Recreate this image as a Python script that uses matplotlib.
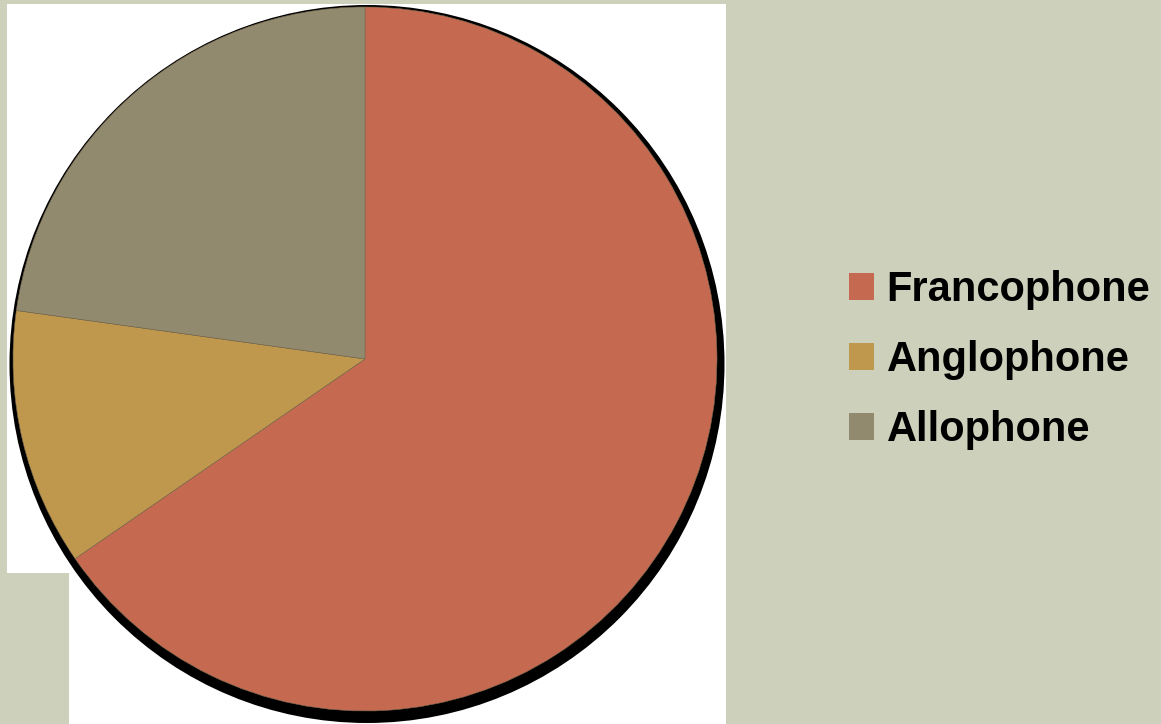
import matplotlib.pyplot as plt
from matplotlib.patches import Rectangle, Ellipse

labels = ["Francophone", "Anglophone", "Allophone"]
shares = [65.4, 11.8, 22.8]
colors = ["#C56A50", "#BF984E", "#918A6E"]

W, H = 1161, 724
fig = plt.figure(figsize=(W / 100, H / 100), dpi=100)
fig.patch.set_facecolor("#CDD1BB")

# white backing behind the pie
fig.patches.append(Rectangle((7 / W, (H - 573) / H), (726 - 7) / W, 569 / H,
                             transform=fig.transFigure, facecolor="white", edgecolor="none", zorder=-5))
fig.patches.append(Rectangle((69 / W, 0), (726 - 69) / W, (H - 4) / H,
                             transform=fig.transFigure, facecolor="white", edgecolor="none", zorder=-5))

# pie axes: centre (365, 359), radius 352 px
cx, cy, r = 365, 359, 352
ax = fig.add_axes([(cx - r) / W, (H - cy - r) / H, 2 * r / W, 2 * r / H])
ax.set_zorder(1)
ax.patch.set_visible(False)
ax.axis("off")

# black drop shadow, heavier towards the bottom
ax.add_patch(Ellipse((2 / r, -5 / r), 2 * 357.5 / r, 2 * 359 / r,
                     facecolor="black", edgecolor="none", zorder=0, clip_on=False))
wedges, _ = ax.pie(shares, colors=colors, startangle=90, counterclock=False, radius=1,
                   wedgeprops=dict(edgecolor="#7a6a50", linewidth=0.4))
for w in wedges:
    w.set_zorder(1)
ax.set_xlim(-1, 1)
ax.set_ylim(-1, 1)

leg = fig.legend(wedges, labels, loc="center left",
                 bbox_to_anchor=(849 / W, (H - 360) / H),
                 frameon=False, borderpad=0, borderaxespad=0,
                 prop=dict(family=["Liberation Sans", "DejaVu Sans"], weight="bold", size=30),
                 handlelength=0.6, handleheight=0.6, handletextpad=0.3, labelspacing=0.72)
for h in leg.legend_handles:
    h.set_edgecolor("none")

fig.savefig("out.png", dpi=100, facecolor=fig.get_facecolor())
